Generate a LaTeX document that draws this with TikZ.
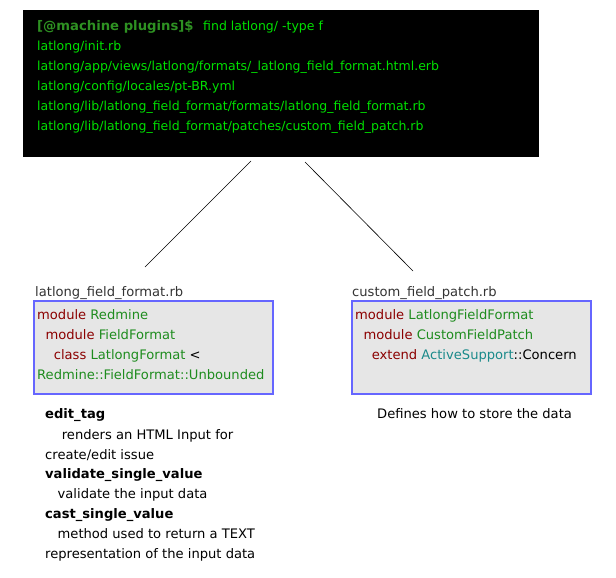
\documentclass[tikz,border=0pt]{standalone}
\usepackage{fontspec}
\setmainfont{DejaVu Sans}
\definecolor{termgreen}{HTML}{00E000}
\definecolor{promptgreen}{HTML}{2E9122}
\definecolor{kwred}{HTML}{8B0000}
\definecolor{clsgreen}{HTML}{1E8C1E}
\definecolor{teal2}{HTML}{1A8A8A}
\definecolor{boxfill}{HTML}{E6E6E6}
\definecolor{boxdraw}{HTML}{6666FF}
\definecolor{labelgray}{HTML}{333333}
\begin{document}
\begin{tikzpicture}[x=1pt,y=-1pt,
  txt/.style={anchor=base west,inner sep=0pt,font=\fontsize{13.1}{15}\selectfont},
  term/.style={txt,text=termgreen,font=\fontsize{12.5}{14}\selectfont},
  codebox/.style={draw=boxdraw,fill=boxfill,line width=1.2pt},
  conn/.style={draw=black,line width=0.6pt}]
\useasboundingbox (0,0) rectangle (616,578);
% terminal
\node[fill=black,minimum width=516pt,minimum height=147pt,inner sep=0pt,anchor=north west] (term) at (23,10) {};
\node[txt,text=promptgreen,font=\fontsize{13.2}{15}\selectfont\bfseries] (l0) at (37,30.5) {[@machine plugins]\$};
\node[term] (l0b) at (203,30.5) {find latlong/ -type f};
\node[term] (l1) at (37,50.5) {latlong/init.rb};
\node[term] (l2) at (37,70.5) {latlong/app/views/latlong/formats/\_latlong\_field\_format.html.erb};
\node[term] (l3) at (37,90.5) {latlong/config/locales/pt-BR.yml};
\node[term] (l4) at (37,110.5) {latlong/lib/latlong\_field\_format/formats/latlong\_field\_format.rb};
\node[term] (l5) at (37,130.5) {latlong/lib/latlong\_field\_format/patches/custom\_field\_patch.rb};
% connectors
\coordinate (a1) at (251,161);
\coordinate (a2) at (145,267);
\coordinate (b1) at (305,162);
\coordinate (b2) at (413,271);
\draw[conn] (a1) -- (a2);
\draw[conn] (b1) -- (b2);
% left box
\node[txt,text=labelgray] (lab1) at (35,296.5) {latlong\_field\_format.rb};
\path[codebox] (34,301) rectangle (273,394);
\node[txt] (c1) at (37,319.5) {\textcolor{kwred}{module} \textcolor{clsgreen}{Redmine}};
\node[txt] (c2) at (37,339.5) {\ \ \textcolor{kwred}{module} \textcolor{clsgreen}{FieldFormat}};
\node[txt] (c3) at (37,359.5) {\ \ \ \ \textcolor{kwred}{class} \textcolor{clsgreen}{LatlongFormat} <};
\node[txt] (c4) at (37,379.5) {\textcolor{clsgreen}{Redmine::FieldFormat::Unbounded}};
% right box
\node[txt,text=labelgray] (lab2) at (352,296.5) {custom\_field\_patch.rb};
\path[codebox] (352,301) rectangle (591,394);
\node[txt] (d1) at (355,319.5) {\textcolor{kwred}{module} \textcolor{clsgreen}{LatlongFieldFormat}};
\node[txt] (d2) at (355,339.5) {\ \ \textcolor{kwred}{module} \textcolor{clsgreen}{CustomFieldPatch}};
\node[txt] (d3) at (355,359.5) {\ \ \ \ \textcolor{kwred}{extend} \textcolor{teal2}{ActiveSupport}::Concern};
% descriptions
\node[txt] (e1) at (45,418.5) {\bfseries edit\_tag};
\node[txt] (e2) at (45,439) {\ \ \ \ renders an HTML Input for};
\node[txt] (e3) at (45,459) {create/edit issue};
\node[txt] (e4) at (45,478.5) {\bfseries validate\_single\_value};
\node[txt] (e5) at (45,498.5) {\ \ \ validate the input data};
\node[txt] (e6) at (45,518.5) {\bfseries cast\_single\_value};
\node[txt] (e7) at (45,538.5) {\ \ \ method used to return a TEXT};
\node[txt] (e8) at (45,558) {representation of the input data};
\node[txt] (f1) at (377,418.5) {Defines how to store the data};
\end{tikzpicture}
\end{document}
